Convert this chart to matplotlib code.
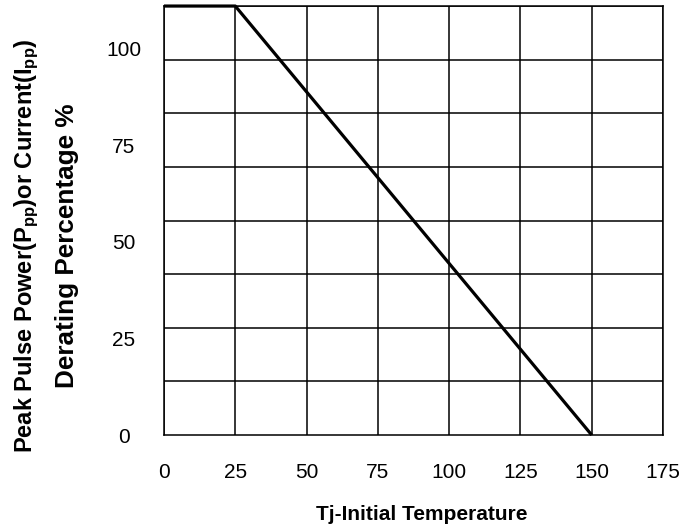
import numpy as np
import matplotlib.pyplot as plt

plt.rcParams['font.family'] = ['Liberation Sans', 'DejaVu Sans']
plt.rcParams['mathtext.default'] = 'regular'

# derating curve (Tj in degC, % of rating)
temp = [0, 25, 150]
derating = [111, 111, 0]

xticks = [0, 25, 50, 75, 100, 125, 150, 175]
yticks = [0, 25, 50, 75, 100]
ymax = 111

fig = plt.figure(figsize=(6.99, 5.30), dpi=100)
ax = fig.add_axes([0.2346, 0.1792, 0.7139, 0.8094])

ax.plot(temp, derating, color='black', lw=2.3, solid_capstyle='butt', clip_on=False, zorder=3)

ax.set_xlim(0, 175)
ax.set_ylim(0, ymax)
ax.set_xticks(xticks)
ax.set_yticks(yticks)
ax.set_yticks(np.linspace(0, ymax, 9), minor=True)
ax.set_xticklabels([str(t) for t in xticks], fontsize=15)
ax.set_yticklabels([str(t) for t in yticks], fontsize=15, ha='center')
ax.tick_params(axis='both', which='both', length=0)
ax.tick_params(axis='x', pad=20)
ax.tick_params(axis='y', pad=29)

ax.grid(True, axis='x', which='major', color='black', lw=1.1)
ax.grid(True, axis='y', which='minor', color='black', lw=1.1)
ax.grid(False, axis='y', which='major')
for s in ax.spines.values():
    s.set_linewidth(1.1)
    s.set_color('black')

fig.text(422 / 699, 1 - 514 / 530, 'Tj-Initial Temperature', ha='center', va='center',
         fontsize=15, fontweight='bold')
fig.text(27 / 699, 1 - 246 / 530, 'Peak Pulse Power(P$_{pp}$)or Current(I$_{pp}$)',
         rotation=90, ha='center', va='center', fontsize=17, fontweight='bold')
fig.text(67 / 699, 1 - 246 / 530, 'Derating Percentage %',
         rotation=90, ha='center', va='center', fontsize=18.8, fontweight='bold')

fig.savefig('out.png', dpi=100)
